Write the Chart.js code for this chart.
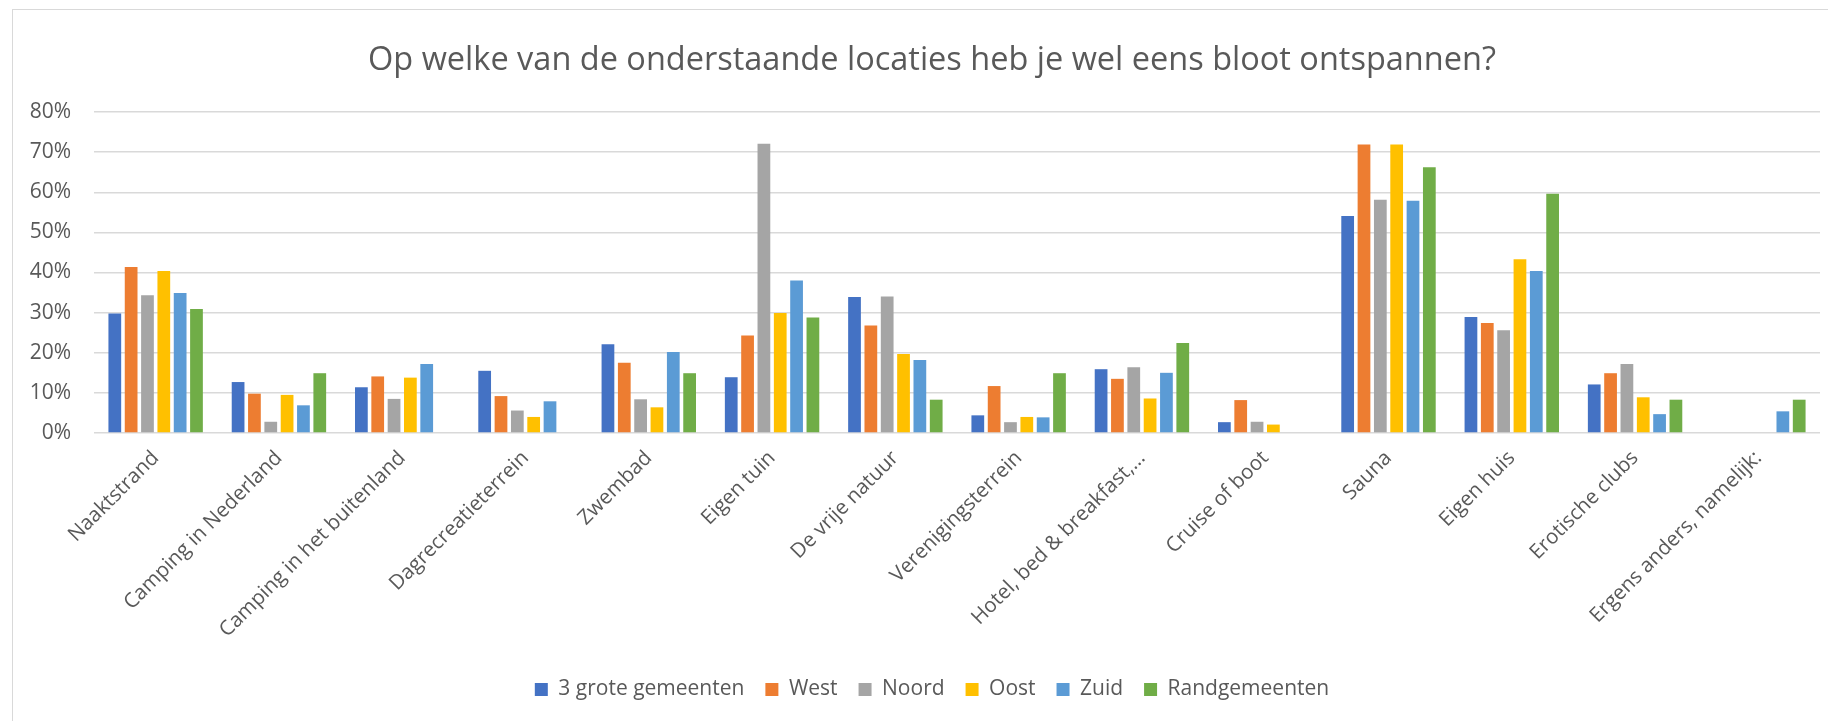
<!DOCTYPE html>
<html>
<head>
<meta charset="utf-8">
<script src="https://cdn.jsdelivr.net/npm/chart.js@4"></script>
<style>
  html, body { margin: 0; padding: 0; background: #fff; }
  #wrap { position: relative; width: 1828px; height: 721px; overflow: hidden; }
  #frame { position: absolute; left: 12px; top: 9px; width: 1900px; height: 800px; border: 1.5px solid #d9d9d9; box-sizing: border-box; }
  #box { position: absolute; left: 0; top: 0; width: 1828px; height: 721px; }
</style>
</head>
<body>
<div id="wrap">
  <div id="frame"></div>
  <div id="box"><canvas id="chart"></canvas></div>
</div>
<script>
// locaties
var locaties = ['Naaktstrand', 'Camping in Nederland', 'Camping in het buitenland', 'Dagrecreatieterrein',
  'Zwembad', 'Eigen tuin', 'De vrije natuur', 'Verenigingsterrein', 'Hotel, bed & breakfast,...',
  'Cruise of boot', 'Sauna', 'Eigen huis', 'Erotische clubs', 'Ergens anders, namelijk:'];

// percentages per regio
var groteGemeenten = [29.8, 12.7, 11.4, 15.5, 22.1, 13.9, 33.9, 4.4, 15.9, 2.7, 54.1, 28.9, 12.1, null];
var west           = [41.4, 9.8, 14.1, 9.2, 17.5, 24.3, 26.8, 11.7, 13.5, 8.2, 71.9, 27.4, 14.9, null];
var noord          = [34.3, 2.8, 8.5, 5.6, 8.4, 72.1, 34.0, 2.7, 16.4, 2.8, 58.1, 25.6, 17.2, null];
var oost           = [40.4, 9.5, 13.8, 4.0, 6.4, 29.9, 19.7, 4.0, 8.6, 2.1, 71.9, 43.3, 8.9, null];
var zuid           = [34.9, 6.9, 17.2, 7.9, 20.2, 38.0, 18.2, 3.9, 15.0, null, 57.9, 40.4, 4.7, 5.4];
var randgemeenten  = [30.9, 14.9, null, null, 14.9, 28.8, 8.3, 14.9, 22.4, null, 66.2, 59.6, 8.3, 8.3];

var yTicks = [0, 10, 20, 30, 40, 50, 60, 70, 80];

var tekst = '#595959';
var font = "'Open Sans', sans-serif";

function ds(label, data, kleur) {
  return { label: label, data: data, backgroundColor: kleur, borderWidth: 0,
    barPercentage: 0.78, categoryPercentage: 0.795 };
}

// titel en legenda staan in Excel iets rechts van het midden
var verschuif = {
  id: 'verschuif',
  afterLayout: function (chart) {
    [chart.titleBlock, chart.legend].forEach(function (b) {
      if (b) { b.left += 22; b.right += 22; }
    });
  }
};

new Chart(document.getElementById('chart'), {
  type: 'bar',
  data: {
    labels: locaties,
    datasets: [
      ds('3 grote gemeenten', groteGemeenten, '#4472C4'),
      ds('West', west, '#ED7D31'),
      ds('Noord', noord, '#A5A5A5'),
      ds('Oost', oost, '#FFC000'),
      ds('Zuid', zuid, '#5B9BD5'),
      ds('Randgemeenten', randgemeenten, '#70AD47')
    ]
  },
  plugins: [verschuif],
  options: {
    responsive: true,
    maintainAspectRatio: false,
    animation: false,
    layout: { padding: { left: 0, right: 8, top: 0, bottom: 11 } },
    plugins: {
      title: {
        display: true,
        text: 'Op welke van de onderstaande locaties heb je wel eens bloot ontspannen?',
        color: tekst,
        font: { family: font, size: 32.5, weight: 'normal' },
        padding: { top: 41, bottom: 32 }
      },
      legend: {
        position: 'bottom',
        labels: {
          color: tekst,
          font: { family: font, size: 21 },
          boxWidth: 13,
          boxHeight: 13,
          padding: 21
        }
      },
      tooltip: { enabled: false }
    },
    scales: {
      x: {
        grid: { display: false },
        border: { display: false },
        ticks: {
          color: tekst,
          font: { family: font, size: 20.5 },
          minRotation: 45,
          maxRotation: 45,
          autoSkip: false,
          padding: 5
        },
        afterFit: function (scale) { scale.height = 225; }
      },
      y: {
        min: 0,
        max: 80,
        border: { display: false },
        grid: { color: '#d9d9d9', lineWidth: 1.5, drawTicks: false },
        afterBuildTicks: function (scale) {
          scale.ticks = yTicks.map(function (v) { return { value: v }; });
        },
        ticks: {
          color: tekst,
          font: { family: font, size: 21 },
          padding: 23,
          callback: function (v) { return v + '%'; }
        },
        afterFit: function (scale) { scale.width = 94; }
      }
    }
  }
});
</script>
</body>
</html>
